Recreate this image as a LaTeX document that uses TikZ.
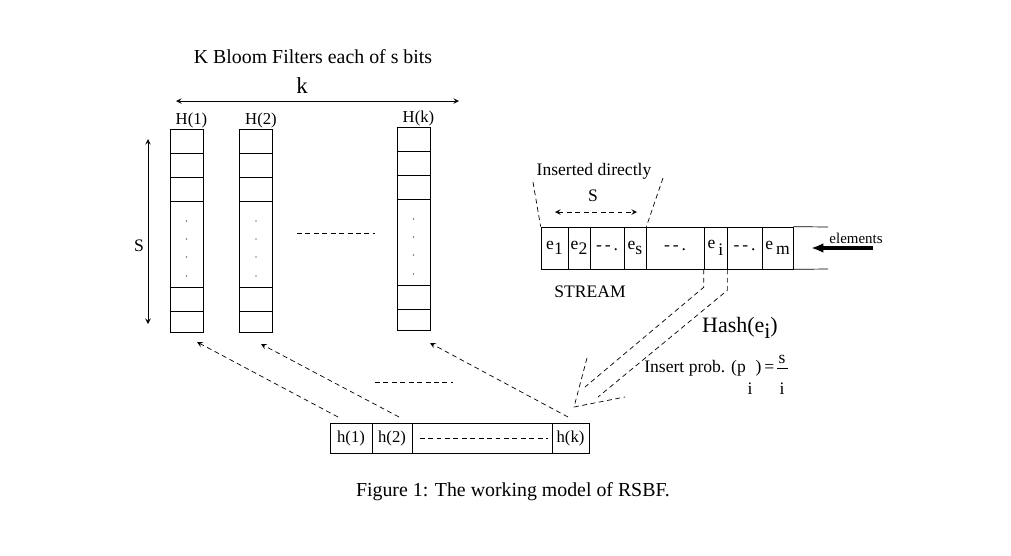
\documentclass[tikz,border=0pt]{standalone}
\usepackage{fontspec}
\setmainfont{Liberation Serif}
\usetikzlibrary{arrows,arrows.meta}
\tikzstyle{filter} = [rectangle, draw, minimum width=0.66cm, minimum height=4.06cm, inner sep=0pt]
\tikzstyle{elem} = [rectangle, draw, minimum height=0.84cm, inner sep=0pt, font=\fontsize{10}{12}\selectfont]
\tikzstyle{hcell} = [rectangle, draw, minimum height=0.6cm, inner sep=0pt, font=\fontsize{9.5}{11}\selectfont]
\tikzstyle{lbl} = [inner sep=0pt, font=\fontsize{9.5}{11}\selectfont]

\begin{document}
\begin{tikzpicture}[x=0.02cm, y=-0.02cm, >=stealth, dashed/.style={dash pattern=on 2.8pt off 2pt}]
\useasboundingbox (0,0) rectangle (1011,555);
%Title
\node[lbl, font=\fontsize{11.3}{13}\selectfont] (title) at (313,57) {K Bloom Filters each of s bits};
\node[lbl, font=\fontsize{13}{15}\selectfont] (klbl) at (302,86) {k};
\coordinate (kL) at (176,101);
\coordinate (kR) at (459,101);
\draw[<->] (kL) -- (kR);

%Bloom filters
\foreach \n/\x/\y in {1/186.5/129,2/256/129,k/413.5/127}{
  \node[filter] (col\n) at (\x,\y+101.5) {};
  \node[lbl] (H\n) at (\x+5,\y-9) {H(\n)};
  \foreach \r in {25,49,73,159,183}
    \draw (col\n.north west) ++(0,\r) -- ++(33,0);
  \foreach \d in {92,110,128,147}
    \fill (\x,\y+\d) circle (0.7);
}
\coordinate (gapL) at (297,233);
\coordinate (gapR) at (375,233);
\draw[dashed] (gapL) -- (gapR);

% s
\coordinate (sT) at (148,139);
\coordinate (sB) at (148,324);
\draw[<->] (sT) -- (sB);
\node[lbl, font=\fontsize{10}{12}\selectfont] (slbl) at (139,246) {S};

%Stream
\node[elem, minimum width=0.54cm] (e1) at (554.5,248) {e\raisebox{-.6ex}{1}};
\node[elem, minimum width=0.44cm] (e2) at (579,248) {e\raisebox{-.6ex}{2}};
\node[elem, minimum width=0.68cm] (d1) at (607,248) {-\,-\,.};
\node[elem, minimum width=0.44cm] (es) at (635,248) {\raisebox{.3ex}{e}\raisebox{-.3ex}{s}};
\node[elem, minimum width=1.16cm] (d2) at (675,248) {-\,-\,.};
\node[elem, minimum width=0.46cm] (ei) at (715.5,248) {\raisebox{.3ex}{e}\,\raisebox{-.5ex}{i}};
\node[elem, minimum width=0.70cm] (d3) at (744.5,248) {-\,-\,.};
\node[elem, minimum width=0.62cm] (em) at (777.5,248) {\raisebox{.4ex}{e}\,\raisebox{-.3ex}{m}};
\coordinate (endT) at (828,227);
\coordinate (endB) at (828,269);
\draw (em.north east) -- (endT);
\draw (em.south east) -- (endB);
\node[lbl, font=\fontsize{8.5}{10}\selectfont] (elements) at (856,238) {elements};
\coordinate (elS) at (873,248);
\coordinate (elE) at (811,248);
\draw[line width=2.3pt, -{Latex[length=7pt,width=5.5pt]}] (elS) -- (elE);
\node[lbl, font=\fontsize{10}{12}\selectfont] (stream) at (590,292) {STREAM};

%Inserted directly
\node[lbl, font=\fontsize{10}{12}\selectfont] (direct) at (594,171) {Inserted directly};
\coordinate (dL) at (533,182);
\coordinate (dR) at (663,178);
\draw[dashed] (dL) -- (e1.north west);
\draw[dashed] (dR) -- (es.north east);
\node[lbl, font=\fontsize{10}{12}\selectfont] (Slbl) at (593,196) {S};
\coordinate (S1) at (555,212);
\coordinate (S2) at (637,212);
\draw[dashed, <->] (S1) -- (S2);

%Hash
\coordinate (fan) at (574,407);
\coordinate (fanT) at (587,358);
\coordinate (fanR) at (625,397);
\coordinate (hA) at (585,387);
\coordinate (hB) at (598,397);
\draw[dashed] (ei.south west) -- ++(0,18) -- (hA);
\draw[dashed] (ei.south east) -- ++(0,21) -- (hB);
\draw[dashed] (fanT) -- (fan) -- (fanR);
\node[lbl, font=\fontsize{12.5}{15}\selectfont] (hash) at (740,328) {Hash(e\raisebox{-.6ex}{i})};
\node[lbl, font=\fontsize{10}{12}\selectfont, anchor=west] (prob) at (644,368) {Insert prob. (p\hspace{0.55em})\,=};
\node[lbl, font=\fontsize{10}{12}\selectfont] (pi) at (750,389) {i};
\node[lbl, font=\fontsize{10}{12}\selectfont] (fs) at (782,359) {s};
\node[lbl, font=\fontsize{10}{12}\selectfont] (fi) at (782,389) {i};
\draw (777,368) -- (788,368);

%Hash functions
\node[hcell, minimum width=0.84cm] (h1) at (351,438) {h(1)};
\node[hcell, minimum width=0.80cm] (h2) at (392,438) {h(2)};
\node[hcell, minimum width=2.80cm] (hmid) at (482,438) {};
\node[hcell, minimum width=0.74cm] (hk) at (570.5,438) {h(k)};
\draw[dashed] ([xshift=0.16cm]hmid.west) -- ([xshift=-0.08cm]hmid.east);
\coordinate (a1) at (338,417);
\coordinate (b1) at (197,342);
\coordinate (a2) at (399,417);
\coordinate (b2) at (261,344);
\coordinate (ak) at (568,417);
\coordinate (bk) at (430,343);
\draw[dashed, ->] (a1) -- (b1);
\draw[dashed, ->] (a2) -- (b2);
\draw[dashed, ->] (ak) -- (bk);
\coordinate (gL) at (375,382);
\coordinate (gR) at (453,382);
\draw[dashed] (gL) -- (gR);

\node[lbl, font=\fontsize{11.3}{13}\selectfont] (caption) at (513,492) {Figure 1: The working model of RSBF.};
\end{tikzpicture}
\end{document}
